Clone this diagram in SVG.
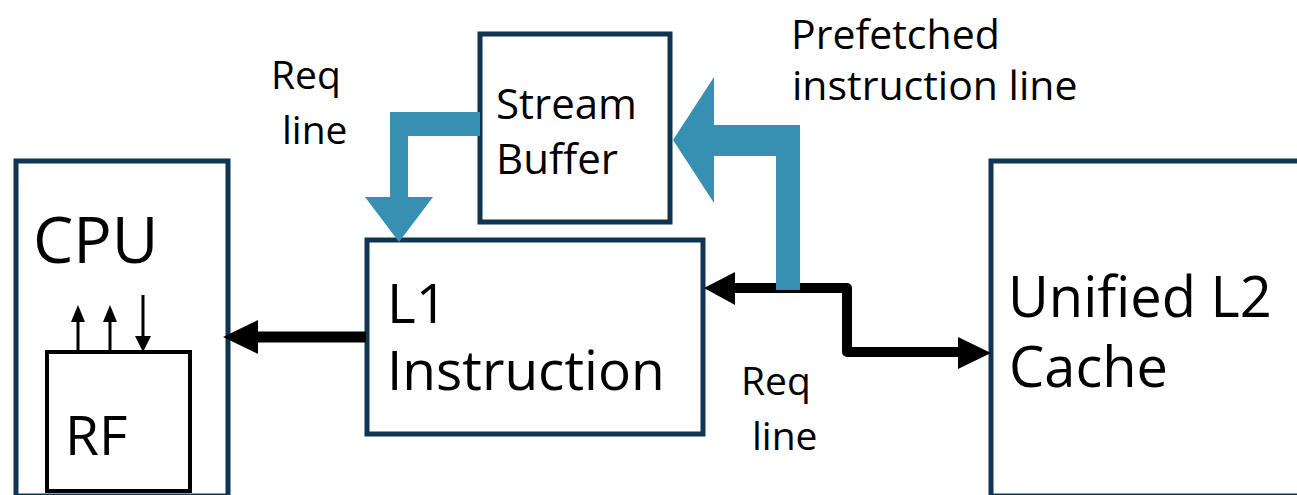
<svg xmlns="http://www.w3.org/2000/svg" width="1297" height="495" viewBox="0 0 1297 495">
  <defs>
    <style>
      .box { fill: #ffffff; stroke: #0f3553; stroke-width: 5; }
      .inner { fill: none; stroke: #000000; stroke-width: 4; }
      .label { font-family: "Open Sans", "Noto Sans", sans-serif; fill: #000000; }
      .teal { fill: #3790b1; }
      .black { fill: #000000; }
      .wire { fill: none; stroke: #000000; stroke-linejoin: round; }
    </style>
  </defs>
  <rect width="1297" height="495" fill="#ffffff"/>

  <!-- CPU with its register file -->
  <g id="cpu">
    <rect class="box" x="16" y="161" width="212" height="335"/>
    <text class="label" x="33" y="263" font-size="64">CPU</text>
    <g id="rf">
      <rect class="inner" x="47" y="352" width="143" height="139"/>
      <text class="label" x="65" y="455" font-size="55">RF</text>
    </g>
    <!-- register file ports: two reads, one write -->
    <g id="rf-ports">
      <line x1="78" y1="350" x2="78" y2="320" stroke="#000" stroke-width="3"/>
      <polygon class="black" points="78,305 71,322 85,322"/>
      <line x1="110" y1="350" x2="110" y2="320" stroke="#000" stroke-width="3"/>
      <polygon class="black" points="110,305 103,322 117,322"/>
      <line x1="143" y1="295" x2="143" y2="338" stroke="#000" stroke-width="3"/>
      <polygon class="black" points="143,352 135,336 151,336"/>
    </g>
  </g>

  <!-- L1 instruction cache -->
  <g id="l1">
    <rect class="box" x="367" y="240" width="336" height="194"/>
    <text class="label" x="387" y="323" font-size="55">L1</text>
    <text class="label" x="387" y="390" font-size="55">Instruction</text>
  </g>

  <!-- Stream buffer -->
  <g id="stream-buffer">
    <rect class="box" x="480" y="34" width="190" height="188"/>
    <text class="label" x="496" y="119" font-size="42">Stream</text>
    <text class="label" x="496" y="174" font-size="42">Buffer</text>
  </g>

  <!-- Unified L2 cache -->
  <g id="l2">
    <rect class="box" x="991" y="161" width="400" height="335"/>
    <text class="label" x="1008" y="317" font-size="56">Unified L2</text>
    <text class="label" x="1009" y="387" font-size="56">Cache</text>
  </g>

  <!-- Connectors -->
  <g id="connectors">
    <!-- L1 -> CPU -->
    <line x1="366" y1="337" x2="255" y2="337" stroke="#000" stroke-width="11"/>
    <polygon class="black" points="223,337 258,320 258,354"/>

    <!-- L1 <-> L2 request path -->
    <path class="wire" stroke-width="10" d="M733,288 H847 V352 H960"/>
    <polygon class="black" points="704,288 735,272 735,305"/>
    <polygon class="black" points="991,353 958,337 958,369"/>

    <!-- prefetched line: L2 path -> stream buffer -->
    <polygon class="teal" points="673,140 714,77 714,125 800,125 800,290 776,290 776,156 714,156 714,203"/>

    <!-- stream buffer -> L1 -->
    <polygon class="teal" points="480,112 390,112 390,197 365,197 399,242 433,197 408,197 408,136 480,136"/>
  </g>

  <!-- Connector labels -->
  <g id="labels">
    <text class="label" x="271" y="89" font-size="39">Req</text>
    <text class="label" x="282" y="144" font-size="39">line</text>
    <text class="label" x="791" y="49" font-size="41">Prefetched</text>
    <text class="label" x="792" y="100" font-size="41">instruction line</text>
    <text class="label" x="741" y="395" font-size="39">Req</text>
    <text class="label" x="752" y="450" font-size="39">line</text>
  </g>
</svg>
